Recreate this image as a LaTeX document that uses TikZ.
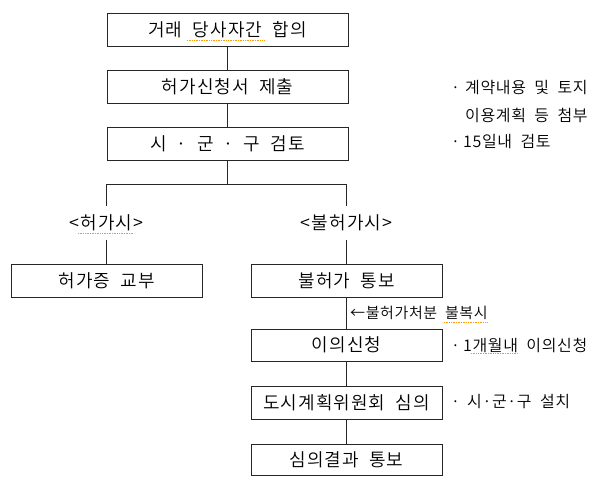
\documentclass[tikz,border=0pt]{standalone}
\usepackage{fontspec}
\setmainfont{Noto Sans CJK KR}[LetterSpace=4, WordSpace=2]
\newfontfamily\boxfont{Noto Sans CJK KR DemiLight}[LetterSpace=6, WordSpace=2]
\newfontfamily\notefont{Noto Sans CJK KR DemiLight}[LetterSpace=4, WordSpace=2]
\tikzset{
  box/.style={draw=black!85, line width=0.9pt, minimum height=33pt, inner sep=0pt, font=\boxfont\fontsize{18}{21}\selectfont},
  lbl/.style={inner sep=0pt, minimum height=33pt, font=\boxfont\fontsize{18}{21}\selectfont},
  note/.style={inner sep=0pt, anchor=west, font=\notefont\fontsize{16}{19}\selectfont},
  conn/.style={draw=black!85, line width=0.9pt},
  spell/.style={draw=orange!80!yellow, line width=0.7pt, densely dotted}
}
\begin{document}
\begin{tikzpicture}[x=1pt,y=-1pt]
\useasboundingbox (0,0) rectangle (600,481);
% main column
\node[box, minimum width=241pt] (b1) at (227.5,30) {거래 당사자간 합의};
\node[box, minimum width=241pt] (b2) at (227.5,86.5) {허가신청서 제출};
\node[box, minimum width=241pt] (b3) at (227.5,143.5) {시 · 군 · 구 검토};
\coordinate (bar) at (227.5,184);
\coordinate (barL) at (106.5,184);
\coordinate (barR) at (346.5,184);
\node[lbl] (l1) at (106.5,223) {<허가시>};
\node[lbl] (l2) at (346.5,223) {<불허가시>};
\node[box, minimum width=191pt] (b4) at (106.5,281) {허가증 교부};
\node[box, minimum width=191pt] (b5) at (346.5,281) {불허가 통보};
\node[box, minimum width=191pt, minimum height=32pt] (b6) at (346.5,345) {이의신청};
\node[box, minimum width=191pt] (b7) at (346.5,402.5) {도시계획위원회 심의};
\node[box, minimum width=191pt, minimum height=31pt] (b8) at (346.5,459.5) {심의결과 통보};
% connectors
\draw[conn] (b1.south) -- (b2.north);
\draw[conn] (b2.south) -- (b3.north);
\draw[conn] (b3.south) -- (bar);
\draw[conn] (barL) -- (barR);
\draw[conn] (barL) -- (l1.north);
\draw[conn] (l1.south) -- (b4.north);
\draw[conn] (barR) -- (l2.north);
\draw[conn] (l2.south) -- (b5.north);
\draw[conn] (b5.south) -- (b6.north);
\draw[conn] (b6.south) -- (b7.north);
\draw[conn] (b7.south) -- (b8.north);
% notes
\node[note, font=\notefont\fontsize{15}{18}\selectfont] (n0) at (350,313) {←불허가처분 불복시};
\node[note] (n1) at (451,88) {\makebox[14pt][l]{·}계약내용 및 토지};
\node[note] (n2) at (451,115) {\makebox[14pt][l]{}이용계획 등 첨부};
\node[note] (n3) at (451,142) {\makebox[12pt][l]{·}15일내 검토};
\node[note] (n4) at (451,345) {\makebox[12pt][l]{·}1개월내 이의신청};
\node[note] (n5) at (451,402) {\makebox[16pt][l]{·}시·군·구 설치};
% spell-check marks
\draw[spell] (187,40) -- (265,40);
\draw[spell] (78,233) -- (134,233);
\draw[spell] (444,322) -- (488,322);
\draw[spell] (471,353) -- (517,353);
\end{tikzpicture}
\end{document}
